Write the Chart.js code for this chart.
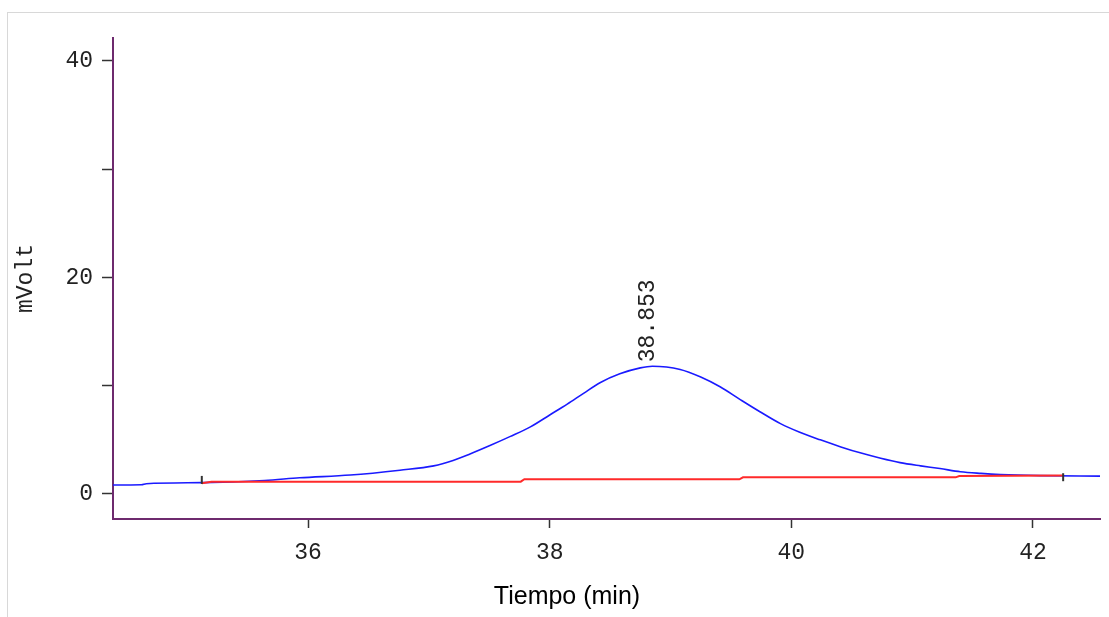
<!DOCTYPE html>
<html lang="es">
<head>
    <meta charset="UTF-8">
    <title>Cromatograma</title>
    <script src="https://cdn.jsdelivr.net/npm/chart.js"></script>
    <style>
        html, body {
            margin: 0;
            padding: 0;
            width: 1109px;
            height: 617px;
            overflow: hidden;
            background: #fff;
        }
        .frame {
            position: absolute;
            left: 7px;
            top: 12px;
            width: 1120px;
            height: 640px;
            border: 1px solid #d8d8d8;
        }
        #chrom {
            position: absolute;
            left: 0;
            top: 0;
        }
    </style>
</head>
<body>
    <div class="frame"></div>
    <canvas id="chrom" width="1109" height="617"></canvas>

    <script>
        // signal (blue trace), time in min / mVolt
        const signalTimes  = [34.385, 34.62, 34.66, 35.12, 35.64, 35.93, 36.35, 36.76, 37.04, 37.2, 37.34, 37.51, 37.67, 37.84, 38.0, 38.145, 38.28, 38.42, 38.58, 38.75, 38.85, 39.08, 39.25, 39.41, 39.58, 39.74, 39.91, 40.07, 40.24, 40.41, 40.57, 40.74, 40.90, 41.07, 41.23, 41.40, 41.57, 41.73, 42.06, 42.555];
        const signalValues = [0.83, 0.85, 0.95, 1.05, 1.25, 1.5, 1.75, 2.2, 2.6, 3.1, 3.7, 4.5, 5.3, 6.2, 7.3, 8.3, 9.3, 10.3, 11.1, 11.65, 11.8, 11.5, 10.8, 9.9, 8.7, 7.6, 6.5, 5.7, 5.0, 4.35, 3.8, 3.3, 2.9, 2.6, 2.35, 2.05, 1.9, 1.8, 1.7, 1.65];

        // integration baseline (red)
        const baseTimes  = [35.12, 35.2, 37.76, 37.79, 39.57, 39.6, 41.36, 41.39, 42.25];
        const baseValues = [1.0, 1.14, 1.14, 1.36, 1.36, 1.54, 1.54, 1.66, 1.7];

        // start / end markers of the baseline
        const markerTimes  = [35.12, 42.25];
        const markerValues = [1.3, 1.55];

        // peak annotation
        const peakTimes  = [38.853];
        const peakValues = [11.8];
        const peakLabels = ['38.853'];

        const xTickValues = [36, 38, 40, 42];
        const yTickValues = [0, 10, 20, 30, 40];
        const yLabelValues = [0, 20, 40];

        const axisColor = '#6e2a6e';
        const monoFont = { family: '"Liberation Mono", "DejaVu Sans Mono", monospace', size: 23 };

        const toPoints = (xs, ys) => xs.map((x, i) => ({ x: x, y: ys[i] }));

        // draws peak retention time labels and the x axis title
        const annotations = {
            id: 'annotations',
            afterDatasetsDraw(chart) {
                const ctx = chart.ctx;
                const xs = chart.scales.x;
                const ys = chart.scales.y;
                ctx.save();
                ctx.fillStyle = '#222';
                ctx.font = monoFont.size + 'px ' + monoFont.family;
                ctx.textAlign = 'left';
                ctx.textBaseline = 'alphabetic';
                peakTimes.forEach((t, i) => {
                    const px = xs.getPixelForValue(t);
                    const py = ys.getPixelForValue(peakValues[i]);
                    ctx.save();
                    ctx.translate(px + 1, py - 4);
                    ctx.rotate(-Math.PI / 2);
                    ctx.fillText(peakLabels[i], 0, 0);
                    ctx.restore();
                });
                ctx.font = '25px "Liberation Sans", Arial, sans-serif';
                ctx.fillStyle = '#000';
                ctx.textAlign = 'center';
                ctx.textBaseline = 'middle';
                ctx.fillText('Tiempo (min)', 567, 597);
                ctx.restore();
            }
        };

        new Chart(document.getElementById('chrom'), {
            type: 'line',
            data: {
                datasets: [
                    {
                        label: 'Línea base',
                        data: toPoints(baseTimes, baseValues),
                        borderColor: '#ff2a2a',
                        borderWidth: 2,
                        pointRadius: 0,
                        tension: 0,
                        order: 1
                    },
                    {
                        label: 'Señal',
                        data: toPoints(signalTimes, signalValues),
                        borderColor: '#1a1aff',
                        borderWidth: 1.6,
                        pointRadius: 0,
                        cubicInterpolationMode: 'monotone',
                        order: 2
                    },
                    {
                        label: 'Marcas',
                        type: 'scatter',
                        data: toPoints(markerTimes, markerValues),
                        pointStyle: 'line',
                        rotation: 90,
                        pointRadius: 4,
                        borderColor: '#333',
                        borderWidth: 2,
                        order: 0
                    }
                ]
            },
            options: {
                responsive: false,
                animation: false,
                layout: { padding: { top: 38, right: 9, left: 0, bottom: 0 } },
                plugins: {
                    legend: { display: false },
                    tooltip: { enabled: false }
                },
                scales: {
                    x: {
                        type: 'linear',
                        min: 34.385,
                        max: 42.555,
                        afterFit(scale) { scale.height = 98; },
                        afterBuildTicks(scale) { scale.ticks = xTickValues.map(v => ({ value: v })); },
                        border: { display: true, color: axisColor, width: 2 },
                        grid: { drawOnChartArea: false, drawTicks: true, tickLength: 9, tickColor: '#333', tickWidth: 1.5 },
                        ticks: {
                            color: '#222',
                            font: monoFont,
                            padding: 11,
                            maxRotation: 0,
                            callback: v => String(v)
                        }
                    },
                    y: {
                        type: 'linear',
                        min: -2.31,
                        max: 42.12,
                        afterFit(scale) { scale.width = 113; },
                        afterBuildTicks(scale) { scale.ticks = yTickValues.map(v => ({ value: v })); },
                        border: { display: true, color: axisColor, width: 2 },
                        grid: { drawOnChartArea: false, drawTicks: true, tickLength: 11, tickColor: '#333', tickWidth: 1.5 },
                        ticks: {
                            color: '#222',
                            font: monoFont,
                            padding: 9,
                            callback: v => yLabelValues.includes(v) ? String(v) : ''
                        },
                        title: {
                            display: true,
                            text: 'mVolt',
                            color: '#222',
                            font: monoFont,
                            padding: { top: 12, bottom: 0 }
                        }
                    }
                }
            },
            plugins: [annotations]
        });
    </script>
</body>
</html>
